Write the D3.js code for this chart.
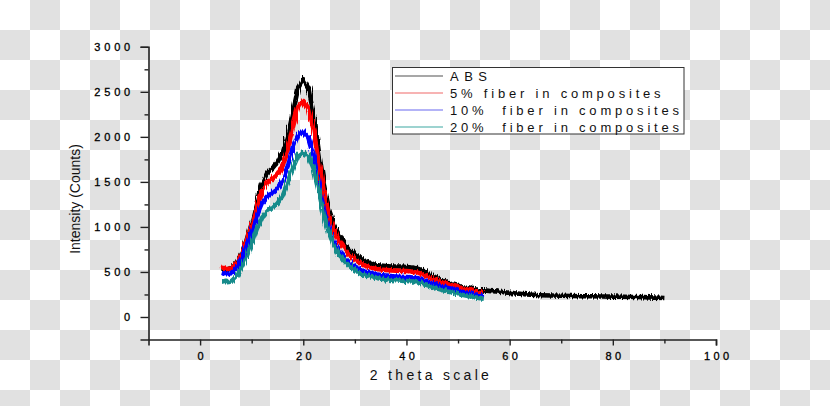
<!DOCTYPE html>
<html><head><meta charset="utf-8">
<script src="https://cdn.jsdelivr.net/npm/d3@7"></script>
<style>body{margin:0;padding:0;}svg{display:block;}text{font-family:"Liberation Sans",Arial,sans-serif;}</style>
</head><body>
<script>
// ---- data ----
const xComp = [4,5,6,7,8,9,10,11,12,13,14,15,16,17,18,19,20,21,22,23,24,25,26,27,28,29,30,31,32,33,34,35,36,37,38,39,40,41,42,43,44,45,46,47,48,49,50,51,52,53,54,55];
const xAbs = xComp.concat([56,58,60,62,64,66,68,70,72,74,76,78,80,82,84,86,88,90]);
const absVals = [540,520,545,600,700,850,1050,1270,1480,1600,1650,1720,1830,2020,2280,2540,2640,2540,2260,1840,1480,1190,1020,900,820,750,700,660,620,595,580,570,565,560,560,560,555,550,540,520,490,460,430,405,380,360,345,330,320,310,300,295,
  290,280,268,258,248,242,238,235,233,230,230,228,226,224,222,220,215,210];
const fiber5 = [565,530,540,590,690,840,1030,1230,1400,1490,1540,1590,1680,1860,2110,2330,2400,2320,2080,1720,1380,1120,960,840,760,690,640,600,570,548,535,527,522,518,515,512,510,505,495,478,455,430,405,385,365,347,330,315,302,290,280,272];
const fiber10 = [490,475,485,540,640,780,950,1130,1270,1340,1380,1430,1520,1680,1880,2020,2060,1990,1790,1480,1190,970,830,730,660,600,560,530,505,487,475,466,460,455,450,447,444,440,432,418,398,378,358,340,323,307,292,278,265,253,243,235];
const fiber20 = [400,385,395,445,545,670,820,980,1110,1180,1215,1260,1350,1500,1660,1790,1830,1790,1650,1400,1140,930,790,690,620,565,520,490,465,448,435,425,418,412,408,404,400,396,388,374,355,335,315,298,282,268,255,243,232,222,212,204];
const seriesNames = ["ABS","5% fiber in composites","10%  fiber in composites","20%  fiber in composites"];
const seriesColors = ["#000000","#ff0000","#0000ff","#138b8b"];
const legendColors = ["#8a8a8a","#f49a9a","#9a9af4","#7cc4c0"];
const xTicks = [0,20,40,60,80,100];
const yTicks = [0,500,1000,1500,2000,2500,3000];

const W = 830, H = 406;
const svg = d3.select("body").append("svg").attr("width", W).attr("height", H);

// checkerboard background
const defs = svg.append("defs");
const pat = defs.append("pattern").attr("id","chk").attr("width",60).attr("height",60).attr("patternUnits","userSpaceOnUse");
pat.append("rect").attr("width",60).attr("height",60).attr("fill","#ffffff");
pat.append("rect").attr("x",30).attr("y",0).attr("width",30).attr("height",30).attr("fill","#e1e1e1");
pat.append("rect").attr("x",0).attr("y",30).attr("width",30).attr("height",30).attr("fill","#e1e1e1");
svg.append("rect").attr("width",W).attr("height",H).attr("fill","url(#chk)");

// rough-edge filter to mimic the detector noise of the trace (styling only)
const flt = defs.append("filter").attr("id","rough").attr("x","-5%").attr("y","-10%").attr("width","110%").attr("height","120%");
flt.append("feTurbulence").attr("type","fractalNoise").attr("baseFrequency","0.8 0.03").attr("numOctaves",2).attr("seed",3).attr("result","n");
flt.append("feDisplacementMap").attr("in","SourceGraphic").attr("in2","n").attr("scale",6)
  .attr("xChannelSelector","R").attr("yChannelSelector","G");

const x = d3.scaleLinear().domain([-10,100]).range([148.5,716]);
const y = d3.scaleLinear().domain([-250,3000]).range([339.5,46.8]);

// data lines
const datasets = [
  xAbs.map((v,i)=>[v,absVals[i]]),
  xComp.map((v,i)=>[v,fiber5[i]]),
  xComp.map((v,i)=>[v,fiber10[i]]),
  xComp.map((v,i)=>[v,fiber20[i]])
];
const line = d3.line().x(d=>x(d[0])).y(d=>y(d[1]));
const lines = svg.append("g").attr("filter","url(#rough)");
datasets.forEach((ds,i)=>{
  lines.append("path").datum(ds).attr("d",line).attr("fill","none")
    .attr("stroke",seriesColors[i]).attr("stroke-width",4.6).attr("stroke-linejoin","round");
});

// axes
const axisColor = "#222";
const yAx = svg.append("g").attr("transform",`translate(${x(-10)},0)`)
  .call(d3.axisLeft(y).tickValues(yTicks).tickSize(8).tickFormat(d3.format("d")));
const yMinor = svg.append("g").attr("transform",`translate(${x(-10)},0)`)
  .call(d3.axisLeft(y).tickValues([250,750,1250,1750,2250,2750]).tickSize(4).tickFormat(""));
const xAx = svg.append("g").attr("transform",`translate(0,${y(-250)})`)
  .call(d3.axisBottom(x).tickValues(xTicks).tickSize(6).tickFormat(d3.format("d")));
const xMinor = svg.append("g").attr("transform",`translate(0,${y(-250)})`)
  .call(d3.axisBottom(x).tickValues([10,30,50,70,90]).tickSize(4).tickFormat(""));
[yAx,yMinor,xAx,xMinor].forEach(g=>{
  g.select(".domain").attr("stroke",axisColor).attr("stroke-width",1.6);
  g.selectAll(".tick line").attr("stroke",axisColor).attr("stroke-width",1.4);
});
yMinor.select(".domain").remove();
xMinor.select(".domain").remove();
yAx.selectAll(".tick text").attr("font-size",11).attr("fill","#000").attr("stroke","#000").attr("stroke-width",0.3)
  .attr("letter-spacing","3.8px").attr("font-family","Liberation Sans, Arial, sans-serif").attr("x",-14.5).attr("dy","0.35em");
xAx.selectAll(".tick text").attr("font-size",11).attr("fill","#000").attr("stroke","#000").attr("stroke-width",0.3)
  .attr("letter-spacing","3.4px").attr("font-family","Liberation Sans, Arial, sans-serif").attr("dx","1.7px").attr("y",13);

// axis titles
svg.append("text").attr("x",431).attr("y",380).attr("text-anchor","middle")
  .attr("font-size",14).attr("letter-spacing","3.3px").attr("fill","#111").text("2 theta scale");
svg.append("text").attr("transform","translate(75,199) rotate(-90)").attr("text-anchor","middle")
  .attr("dy","0.35em").attr("font-size",14).attr("fill","#111").text("Intensity (Counts)");

// legend
const lg = svg.append("g");
lg.append("rect").attr("x",392.5).attr("y",67.5).attr("width",291.5).attr("height",66.5)
  .attr("fill","#ffffff").attr("stroke","#333").attr("stroke-width",1);
seriesNames.forEach((n,i)=>{
  const yy = 76 + i*17;
  lg.append("line").attr("x1",395).attr("x2",443).attr("y1",yy).attr("y2",yy)
    .attr("stroke",legendColors[i]).attr("stroke-width",1.3);
  lg.append("text").attr("x",450).attr("y",yy).attr("dy","0.36em").attr("font-size",13)
    .attr("letter-spacing",i===0?"5.5px":"3.8px").attr("fill","#111").style("white-space","pre").text(n);
});
</script>
</body></html>
